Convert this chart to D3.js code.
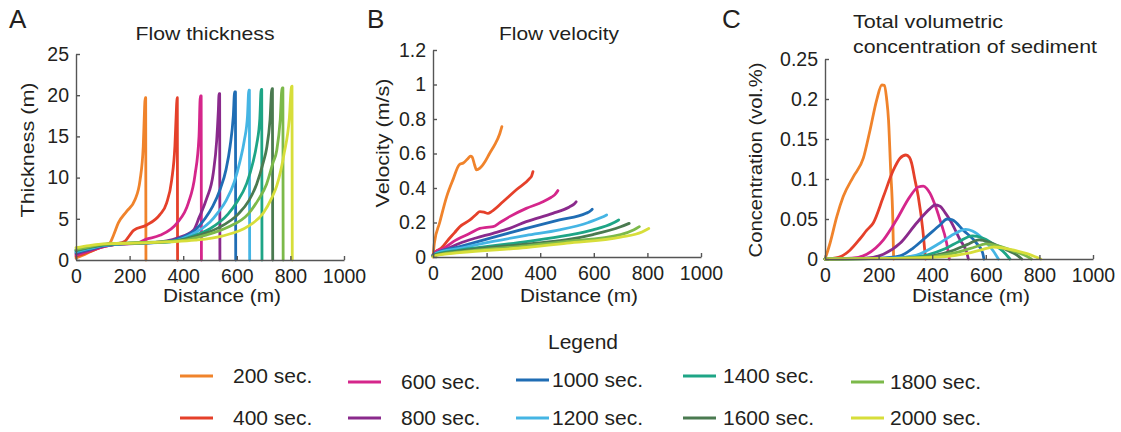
<!DOCTYPE html>
<meta charset="utf-8">
<style>

body { margin: 0; background: #fff; }

text {
  font-family: "Liberation Sans", Arial, Helvetica, sans-serif;
  fill: #231f20;
}

.axis path, .axis line {
  stroke: #555;
  stroke-width: 1.4px;
}

.axis text {
  font-size: 19.5px;
  fill: #231f20;
}

.curve {
  fill: none;
  stroke-width: 2.8px;
  stroke-linejoin: round;
  stroke-linecap: round;
}

</style>
<body>
<script src="https://cdn.jsdelivr.net/npm/d3@7"></script>
<script>
    // series: time steps and their colours
    var times = [200, 400, 600, 800, 1000, 1200, 1400, 1600, 1800, 2000];
    var colors = ["#f0832b", "#e5402a", "#d5268b", "#8a2a8c", "#1f6db4",
                  "#45b5e4", "#1ea586", "#4a7a50", "#7cb94a", "#d7de3a"];

    // tick values
    var distanceTicks = [0, 200, 400, 600, 800, 1000];
    var thicknessTicks = [0, 5, 10, 15, 20, 25];
    var velocityTicks = [0, 0.2, 0.4, 0.6, 0.8, 1, 1.2];
    var concTicks = [0, 0.05, 0.1, 0.15, 0.2, 0.25];

    // flow thickness (m) vs distance (m), one list per time step
    var thickness = [
      [[0,0.25],[40,0.8],[80,1.4],[115,1.9],[127,2.1],[140,3.0],[158,4.5],[189,5.9],[220,7.3],[239,9.7],[251,13.8],[256,18.5],[258,19.7],[260,19.7],[261,0]],
      [[0,0.45],[50,1.0],[100,1.6],[150,1.95],[183,2.3],[200,3.0],[215,3.6],[264,4.25],[313,5.5],[338,6.9],[357,9.7],[369,13.8],[375,18.5],[377,19.7],[378,19.7],[379,0]],
      [[0,0.6],[50,1.1],[100,1.6],[150,1.9],[226,2.05],[260,2.5],[313,3.0],[376,4.45],[419,6.9],[444,10.3],[459,15],[464,19.9],[467,19.9],[468,0]],
      [[0,0.75],[50,1.2],[100,1.65],[150,1.9],[288,2.1],[380,2.7],[438,3.6],[460,5.2],[488,7.5],[512,10.5],[525,14.5],[531,18],[534,20.2],[536,20.2],[537,0]],
      [[0,0.9],[50,1.3],[100,1.7],[150,1.9],[330,2.2],[400,2.8],[444,3.6],[481,5.0],[510,6.5],[537,8.5],[560,11],[575,13.8],[587,17.5],[592,20.4],[595,20.4],[596,0]],
      [[0,1.0],[50,1.4],[100,1.75],[150,1.9],[350,2.2],[420,2.9],[469,3.8],[500,4.6],[531,5.8],[560,7.2],[591,9.5],[612,12],[628,14.5],[640,17.5],[645,20.6],[647,20.6],[648,0]],
      [[0,1.1],[50,1.5],[100,1.8],[150,1.95],[350,2.2],[444,3.0],[500,3.8],[568,5.6],[600,7.0],[637,9.3],[660,11.8],[674,14],[686,17.2],[691,20.7],[693,20.7],[694,0]],
      [[0,1.2],[50,1.55],[100,1.85],[150,1.95],[370,2.3],[458,3.0],[531,3.9],[606,5.6],[645,7.2],[674,9.2],[700,12],[711,13.5],[724,17],[731,20.8],[733,20.8],[734,0]],
      [[0,1.3],[50,1.6],[100,1.9],[150,2.0],[390,2.35],[481,3.0],[568,4.0],[643,5.6],[680,7.3],[711,9.2],[735,11.8],[749,13.3],[762,17],[769,20.9],[772,20.9],[773,0]],
      [[0,1.5],[50,1.75],[100,1.95],[150,2.0],[350,2.2],[444,2.4],[544,2.9],[643,4.1],[699,5.7],[730,7.5],[749,9.0],[765,11],[777,13.0],[796,17.2],[804,21],[806,21.1],[807,0]]
    ];

    // flow velocity (m/s) vs distance (m)
    var velocity = [
      [[0,0],[5,0.08],[25,0.2],[51,0.35],[75,0.45],[98,0.535],[113,0.545],[130,0.57],[140,0.585],[146,0.58],[155,0.535],[162,0.505],[175,0.515],[195,0.555],[211,0.6],[230,0.65],[248,0.71],[252,0.73],[257,0.756]],
      [[0,0.01],[10,0.03],[30,0.05],[57,0.1],[80,0.14],[100,0.176],[138,0.215],[160,0.245],[175,0.263],[190,0.26],[205,0.253],[218,0.263],[261,0.32],[311,0.39],[361,0.456],[368,0.47],[373,0.495]],
      [[0,0.01],[10,0.03],[40,0.05],[76,0.089],[138,0.137],[175,0.166],[200,0.172],[224,0.176],[250,0.2],[286,0.234],[348,0.282],[410,0.32],[440,0.345],[454,0.36],[466,0.385]],
      [[0,0.01],[10,0.02],[50,0.045],[100,0.08],[160,0.11],[224,0.137],[286,0.166],[348,0.205],[447,0.253],[509,0.29],[525,0.305],[534,0.32]],
      [[0,0.01],[10,0.02],[100,0.06],[224,0.114],[348,0.166],[472,0.215],[571,0.253],[588,0.268],[594,0.277]],
      [[0,0.005],[10,0.02],[100,0.05],[224,0.09],[348,0.125],[472,0.157],[580,0.2],[630,0.23],[648,0.244]],
      [[0,0.005],[10,0.015],[100,0.04],[348,0.089],[500,0.125],[597,0.157],[670,0.195],[693,0.215]],
      [[0,0.005],[10,0.012],[100,0.035],[348,0.075],[500,0.1],[597,0.13],[700,0.175],[732,0.195]],
      [[0,0.003],[10,0.01],[100,0.03],[348,0.065],[500,0.09],[700,0.13],[750,0.158],[770,0.176]],
      [[0,0.002],[10,0.008],[100,0.025],[348,0.055],[500,0.08],[700,0.115],[780,0.145],[805,0.165]]
    ];

    // total volumetric concentration (vol.%) vs distance (m)
    var concentration = [
      [[0,0],[10,0.01],[19,0.02],[44,0.053],[68,0.078],[106,0.103],[143,0.126],[168,0.161],[193,0.199],[212,0.2175],[222,0.217],[230,0.2],[237,0.174],[245,0.111],[253,0.049],[256,0]],
      [[0,0],[50,0.002],[93,0.011],[130,0.025],[156,0.036],[180,0.045],[218,0.078],[255,0.111],[280,0.126],[302,0.13],[315,0.127],[323,0.12],[335,0.1],[348,0.078],[365,0.036],[375,0]],
      [[0,0],[100,0.001],[156,0.006],[218,0.024],[267,0.049],[317,0.078],[348,0.09],[367,0.091],[380,0.088],[392,0.082],[410,0.068],[429,0.049],[454,0.0196],[464,0]],
      [[0,0],[150,0.001],[218,0.006],[280,0.0196],[342,0.045],[392,0.063],[410,0.0675],[429,0.066],[448,0.058],[466,0.049],[504,0.024],[529,0.008],[535,0]],
      [[0,0],[200,0.001],[280,0.004],[330,0.014],[379,0.028],[429,0.0425],[456,0.05],[475,0.049],[516,0.036],[566,0.0196],[588,0.008],[593,0]],
      [[0,0],[250,0.001],[342,0.005],[429,0.02],[480,0.031],[525,0.037],[550,0.035],[590,0.025],[628,0.01],[647,0]],
      [[0,0],[300,0.001],[380,0.005],[450,0.013],[500,0.022],[550,0.029],[590,0.026],[640,0.016],[675,0.006],[690,0]],
      [[0,0],[300,0.001],[400,0.004],[480,0.011],[530,0.018],[575,0.024],[620,0.02],[680,0.011],[720,0.004],[734,0]],
      [[0,0],[300,0.001],[420,0.004],[500,0.009],[560,0.015],[600,0.019],[650,0.016],[710,0.009],[755,0.003],[770,0]],
      [[0,0],[300,0.001],[450,0.003],[530,0.007],[590,0.012],[630,0.015],[690,0.012],[750,0.007],[790,0.002],[805,0]]
    ];

    var svg = d3.select("body").append("svg")
        .attr("width", 1121)
        .attr("height", 432);

    svg.append("rect").attr("width", 1121).attr("height", 432).attr("fill", "#fff");

    // text whose drawn width is forced to match the figure
    function label(x, y, str, size, len, anchor, rot) {
      var t = svg.append("text")
          .attr("text-anchor", anchor)
          .attr("textLength", len)
          .attr("lengthAdjust", "spacingAndGlyphs")
          .style("font-size", size + "px")
          .text(str);
      if (rot) t.attr("transform", "translate(" + x + "," + y + ") rotate(-90)");
      else t.attr("x", x).attr("y", y);
      return t;
    }

    // one panel = letter, title, two axes and the ten curves
    function panel(p) {
      var x = d3.scaleLinear().domain([0, 1000]).range([p.left, p.left + 268]);
      var y = d3.scaleLinear().domain([0, p.yTicks[p.yTicks.length - 1]]).range([p.bottom, p.top]);

      var line = d3.line()
          .x(function(d) { return x(d[0]); })
          .y(function(d) { return y(d[1]); })
          .curve(d3.curveMonotoneX);

      svg.append("g")
          .selectAll("path")
          .data(p.data)
        .enter().append("path")
          .attr("class", "curve")
          .attr("stroke", function(d, i) { return colors[i]; })
          .attr("d", line);

      svg.append("g")
          .attr("class", "axis")
          .attr("transform", "translate(0," + p.bottom + ")")
          .call(d3.axisBottom(x).tickValues(distanceTicks).tickFormat(String)
              .tickSizeInner(-4).tickSizeOuter(0).tickPadding(9));

      svg.append("g")
          .attr("class", "axis")
          .attr("transform", "translate(" + p.left + ",0)")
          .call(d3.axisLeft(y).tickValues(p.yTicks).tickFormat(String)
              .tickSizeInner(-4).tickSizeOuter(0).tickPadding(7));

      label(p.left + 146, 302, "Distance (m)", 18.5, 118, "middle");
      label(p.ylabelX, p.ylabelY, p.ylabel, 19, p.ylabelLen, "middle", true);

      svg.append("text")
          .attr("x", p.letterX)
          .attr("y", 28)
          .style("font-size", "26px")
          .text(p.letter);

      p.title.forEach(function(t, i) {
        label(p.titleX, p.titleY + i * 25, t, 18.5, p.titleLen[i], p.titleAnchor);
      });
    }

    panel({letter: "A", letterX: 9, title: ["Flow thickness"], titleLen: [139], titleX: 205, titleY: 40, titleAnchor: "middle",
           left: 76, top: 54, bottom: 260, yTicks: thicknessTicks, data: thickness,
           ylabel: "Thickness (m)", ylabelLen: 135, ylabelX: 34, ylabelY: 150});

    panel({letter: "B", letterX: 367, title: ["Flow velocity"], titleLen: [120], titleX: 559, titleY: 40, titleAnchor: "middle",
           left: 433, top: 50, bottom: 257, yTicks: velocityTicks, data: velocity,
           ylabel: "Velocity (m/s)", ylabelLen: 129, ylabelX: 389, ylabelY: 143});

    panel({letter: "C", letterX: 722, title: ["Total volumetric", "concentration of sediment"], titleLen: [150, 244], titleX: 853, titleY: 28, titleAnchor: "start",
           left: 825, top: 59, bottom: 259, yTicks: concTicks, data: concentration,
           ylabel: "Concentration (vol.%)", ylabelLen: 195, ylabelX: 762, ylabelY: 160});

    // legend
    svg.append("text")
        .attr("x", 583)
        .attr("y", 349)
        .attr("text-anchor", "middle")
        .style("font-size", "21px")
        .text("Legend");

    var colX = [180, 348, 516, 683, 851],
        rowY = [[376, 418], [382, 418], [380, 418], [376, 418], [382, 418]],
        textGap = [53, 53, 36, 40, 39];

    var item = svg.append("g").selectAll("g")
        .data(times)
      .enter().append("g")
        .attr("transform", function(d, i) {
          var c = Math.floor(i / 2), r = i % 2;
          return "translate(" + colX[c] + "," + rowY[c][r] + ")";
        });

    item.append("line")
        .attr("x1", 0)
        .attr("x2", 33)
        .attr("stroke", function(d, i) { return colors[i]; })
        .attr("stroke-width", 3);

    item.append("text")
        .attr("x", function(d, i) { return textGap[Math.floor(i / 2)]; })
        .attr("dy", "0.35em")
        .style("font-size", "21px")
        .text(function(d) { return d + " sec."; });

</script>
